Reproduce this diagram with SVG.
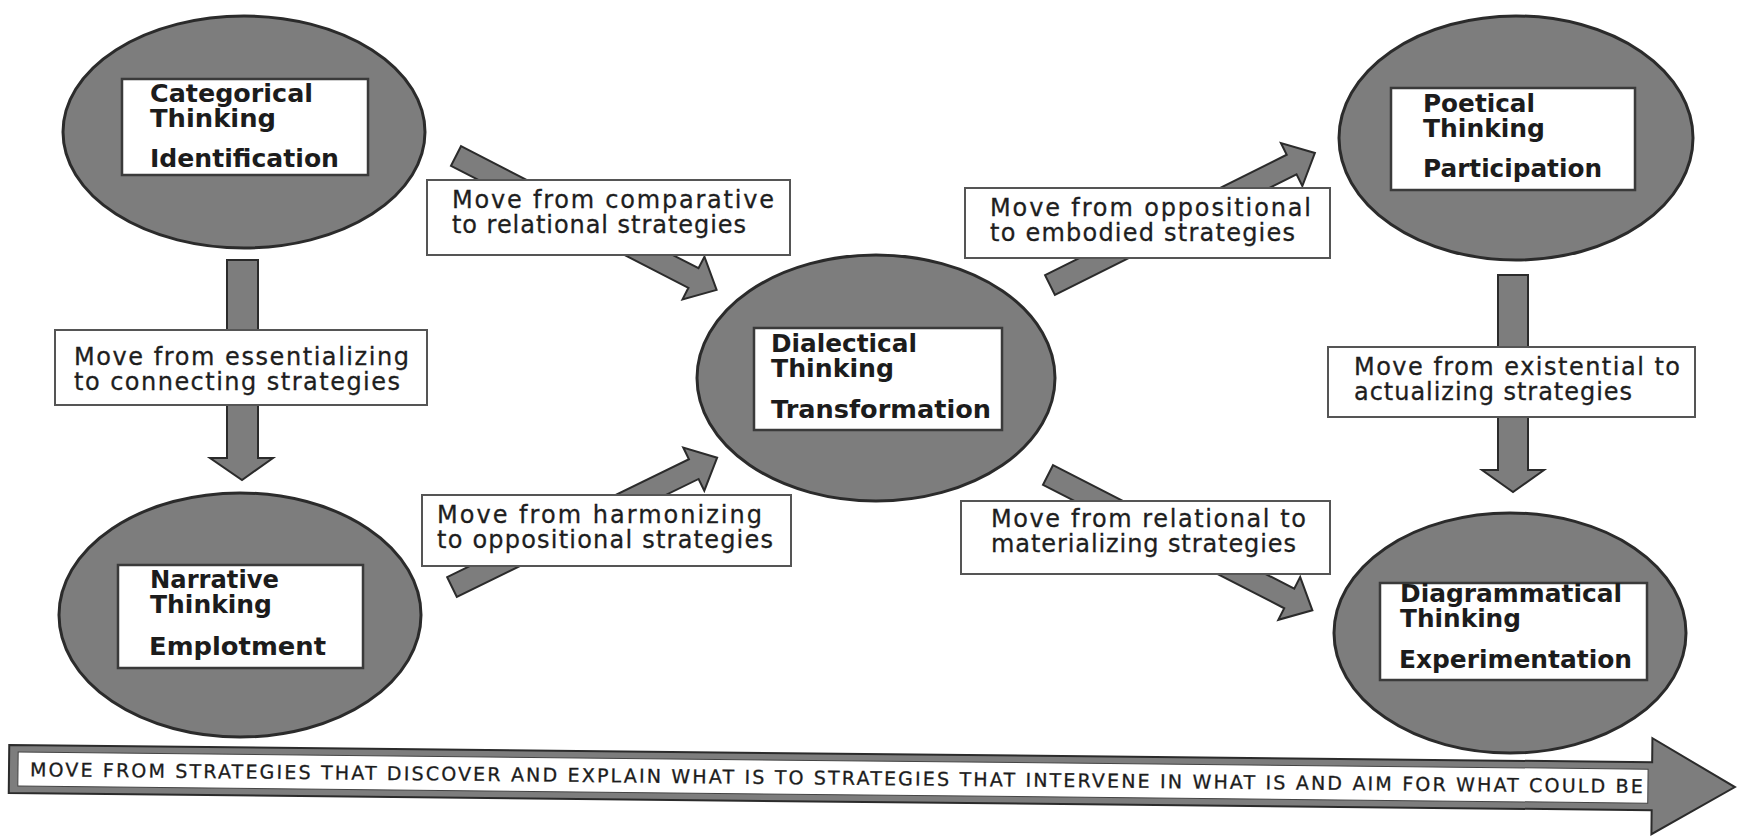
<svg xmlns="http://www.w3.org/2000/svg" width="1739" height="838" viewBox="0 0 1739 838">
<defs>
<style>
.bg{fill:#ffffff}
.circ{fill:#7d7d7d;stroke:#2b2b2b;stroke-width:3}
.arrow{fill:#7d7d7d;stroke:#2b2b2b;stroke-width:2;stroke-linejoin:miter}
.nbox{fill:#ffffff;stroke:#3a3a3a;stroke-width:2.5}
.lbox{fill:#ffffff;stroke:#555555;stroke-width:2}
.title{font-family:"DejaVu Sans","Liberation Sans",sans-serif;font-weight:bold;font-size:24px;fill:#1c1c1c}
.lbl{font-family:"DejaVu Sans","Liberation Sans",sans-serif;font-size:24px;fill:#1e1e1e;stroke:#1e1e1e;stroke-width:0.3}
.bar{font-family:"DejaVu Sans","Liberation Sans",sans-serif;font-size:19px;fill:#1c1c1c;stroke:#1c1c1c;stroke-width:0.3}
</style>
</defs>
<rect class="bg" x="0" y="0" width="1739" height="838"/>

<g id="connectors">
  <polygon class="arrow" points="227,260 258,260 258,458 273,458 242,480 210,458 227,458"/>
  <polygon class="arrow" points="1498,275 1528,275 1528,470 1544,470 1513,492 1482,470 1498,470"/>
  <polygon class="arrow" transform="translate(456,156) rotate(27.2)" points="0,-11 267,-11 267,-24 293,0 267,24 267,11 0,11"/>
  <polygon class="arrow" transform="translate(452,587) rotate(-26)" points="0,-11 269,-11 269,-24 295,0 269,24 269,11 0,11"/>
  <polygon class="arrow" transform="translate(1050,285) rotate(-26.5)" points="0,-11 270,-11 270,-24 296,0 270,24 270,11 0,11"/>
  <polygon class="arrow" transform="translate(1048,475) rotate(27.1)" points="0,-11 271,-11 271,-24 297,0 271,24 271,11 0,11"/>

  <g id="label-essentializing">
    <rect class="lbox" x="55" y="330" width="372" height="75"/>
    <text class="lbl" x="74" y="365" textLength="335">Move from essentializing</text>
    <text class="lbl" x="74" y="390" textLength="326">to connecting strategies</text>
  </g>
  <g id="label-comparative">
    <rect class="lbox" x="427" y="180" width="363" height="75"/>
    <text class="lbl" x="452" y="208" textLength="322">Move from comparative</text>
    <text class="lbl" x="452" y="233" textLength="294">to relational strategies</text>
  </g>
  <g id="label-harmonizing">
    <rect class="lbox" x="422" y="495" width="369" height="71"/>
    <text class="lbl" x="437" y="523" textLength="325">Move from harmonizing</text>
    <text class="lbl" x="437" y="548" textLength="336">to oppositional strategies</text>
  </g>
  <g id="label-embodied">
    <rect class="lbox" x="965" y="188" width="365" height="70"/>
    <text class="lbl" x="990" y="216" textLength="321">Move from oppositional</text>
    <text class="lbl" x="990" y="241" textLength="305">to embodied strategies</text>
  </g>
  <g id="label-materializing">
    <rect class="lbox" x="961" y="501" width="369" height="73"/>
    <text class="lbl" x="991" y="527" textLength="315">Move from relational to</text>
    <text class="lbl" x="991" y="552" textLength="305">materializing strategies</text>
  </g>
  <g id="label-existential">
    <rect class="lbox" x="1328" y="347" width="367" height="70"/>
    <text class="lbl" x="1354" y="375" textLength="326">Move from existential to</text>
    <text class="lbl" x="1354" y="400" textLength="278">actualizing strategies</text>
  </g>
</g>

<g id="node-categorical">
  <ellipse class="circ" cx="244" cy="132" rx="181" ry="116"/>
  <rect class="nbox" x="122" y="79" width="246" height="96"/>
  <text class="title" x="150" y="102" textLength="163" lengthAdjust="spacingAndGlyphs">Categorical</text>
  <text class="title" x="150" y="127" textLength="126" lengthAdjust="spacingAndGlyphs">Thinking</text>
  <text class="title" x="150" y="167" textLength="189" lengthAdjust="spacingAndGlyphs">Identification</text>
</g>

<g id="node-narrative">
  <ellipse class="circ" cx="240" cy="615" rx="181" ry="122"/>
  <rect class="nbox" x="118" y="565" width="245" height="103"/>
  <text class="title" x="150" y="588" textLength="129" lengthAdjust="spacingAndGlyphs">Narrative</text>
  <text class="title" x="150" y="613" textLength="122" lengthAdjust="spacingAndGlyphs">Thinking</text>
  <text class="title" x="149" y="655" textLength="177" lengthAdjust="spacingAndGlyphs">Emplotment</text>
</g>

<g id="node-dialectical">
  <ellipse class="circ" cx="876" cy="378" rx="179" ry="123"/>
  <rect class="nbox" x="754" y="328" width="248" height="102"/>
  <text class="title" x="771" y="352" textLength="146" lengthAdjust="spacingAndGlyphs">Dialectical</text>
  <text class="title" x="771" y="377" textLength="123" lengthAdjust="spacingAndGlyphs">Thinking</text>
  <text class="title" x="771" y="418" textLength="220" lengthAdjust="spacingAndGlyphs">Transformation</text>
</g>

<g id="node-poetical">
  <ellipse class="circ" cx="1516" cy="138" rx="177" ry="122"/>
  <rect class="nbox" x="1391" y="88" width="244" height="102"/>
  <text class="title" x="1423" y="112" textLength="112" lengthAdjust="spacingAndGlyphs">Poetical</text>
  <text class="title" x="1423" y="137" textLength="122" lengthAdjust="spacingAndGlyphs">Thinking</text>
  <text class="title" x="1423" y="177" textLength="179" lengthAdjust="spacingAndGlyphs">Participation</text>
</g>

<g id="node-diagrammatical">
  <ellipse class="circ" cx="1510" cy="633" rx="176" ry="120"/>
  <rect class="nbox" x="1380" y="583" width="267" height="97"/>
  <text class="title" x="1400" y="602" textLength="222" lengthAdjust="spacingAndGlyphs">Diagrammatical</text>
  <text class="title" x="1400" y="627" textLength="121" lengthAdjust="spacingAndGlyphs">Thinking</text>
  <text class="title" x="1399" y="668" textLength="233" lengthAdjust="spacingAndGlyphs">Experimentation</text>
</g>

<g id="timeline" transform="rotate(0.6 9 769)">
  <polygon class="arrow" points="9,745 1652,745 1652,721 1735,769 1652,817 1652,793 9,793"/>
  <rect x="18" y="752" width="1630" height="34" fill="#ffffff" stroke="#444444" stroke-width="1"/>
  <text class="bar" x="30" y="776" textLength="1613">MOVE FROM STRATEGIES THAT DISCOVER AND EXPLAIN WHAT IS TO STRATEGIES THAT INTERVENE IN WHAT IS AND AIM FOR WHAT COULD BE</text>
</g>
</svg>
